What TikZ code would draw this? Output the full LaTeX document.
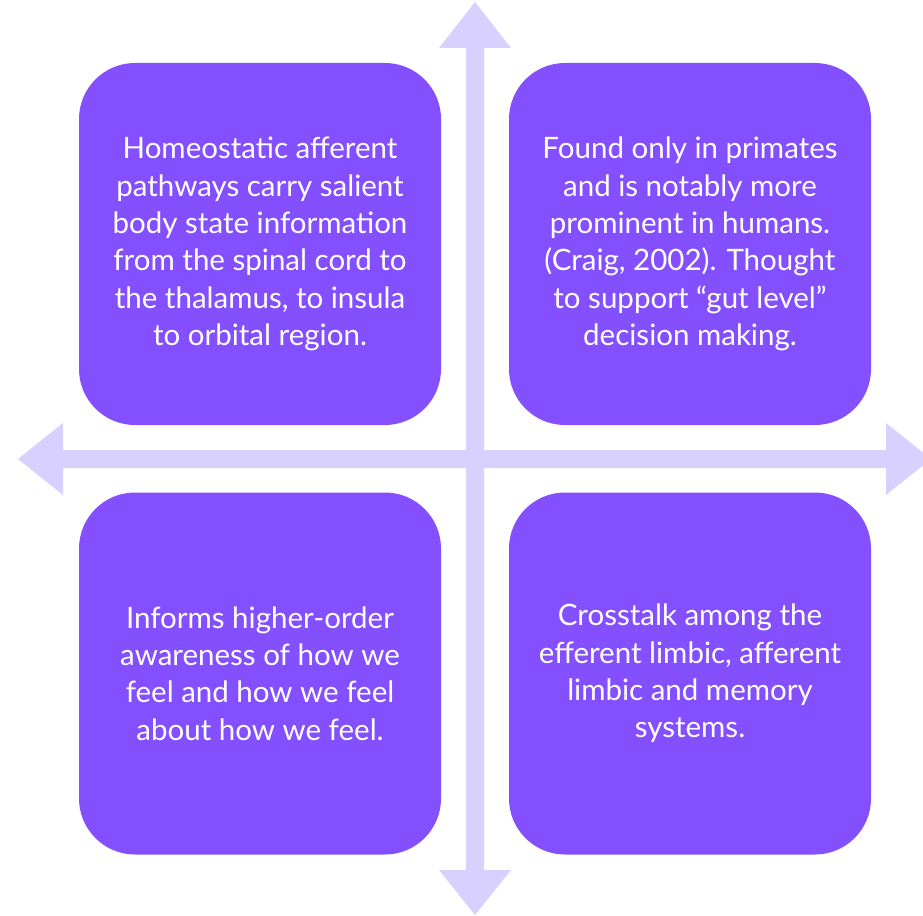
\documentclass[tikz,border=0pt]{standalone}
\usepackage{fontspec}
\setmainfont{Lato}
\definecolor{cardfill}{RGB}{132,80,255}
\definecolor{crossfill}{RGB}{216,208,255}
\begin{document}
\begin{tikzpicture}[x=1pt,y=-1pt,
  card/.style={fill=cardfill, rounded corners=56pt, minimum width=362pt,
    minimum height=362pt, inner sep=0pt, text=white, align=center,
    font=\fontsize{29.5}{37.4}\selectfont},
  crossarrow/.style={fill=crossfill}]
\useasboundingbox (0,0) rectangle (923,915);
\clip (0,0) rectangle (923,915);
% four-headed cross behind the cards
\fill[crossarrow] (475,2) -- (511,48) -- (484,48) -- (484,450) -- (886,450)
  -- (886,423) -- (931,459) -- (886,495) -- (886,468) -- (484,468)
  -- (484,870) -- (511,870) -- (475,915) -- (439,870) -- (466,870)
  -- (466,468) -- (63,468) -- (63,495) -- (18,459) -- (63,423)
  -- (63,450) -- (466,450) -- (466,48) -- (439,48) -- cycle;
% quadrant cards
\node[card] (tl) at (260,244) {Homeostatic afferent\\pathways carry salient\\body state information\\from the spinal cord to\\the thalamus, to insula\\to orbital region.};
\node[card] (tr) at (690,244) {Found only in primates\\and is notably more\\prominent in humans.\\(Craig, 2002). Thought\\to support “gut level”\\decision making.};
\node[card] (bl) at (260,673.5) {Informs higher-order\\awareness of how we\\feel and how we feel\\about how we feel.};
\node[card] (br) at (690,673.5) {Crosstalk among the\\efferent limbic, afferent\\limbic and memory\\systems.};
\end{tikzpicture}
\end{document}
